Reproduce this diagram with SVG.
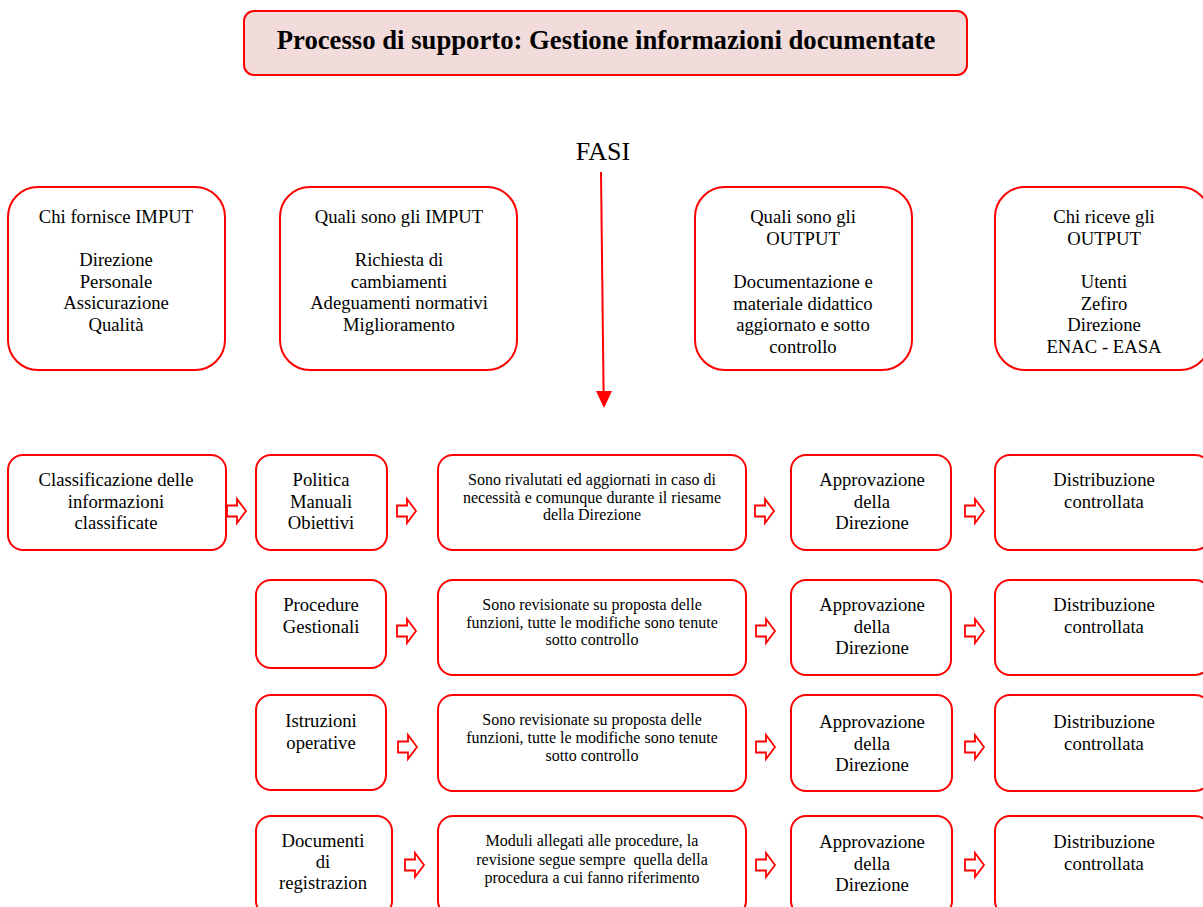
<svg xmlns="http://www.w3.org/2000/svg" width="1203" height="907" viewBox="0 0 1203 907">
<defs>
<style>
.box{fill:#ffffff;stroke:#ff0000;stroke-width:2}
.title{fill:#f2dcdb;stroke:#ff0000;stroke-width:2}
text{font-family:"Liberation Serif","Times New Roman",serif;fill:#000000;text-anchor:middle}
.t{font-size:18.67px}
.s{font-size:16px}
.h{font-size:26.7px;font-weight:bold}
.f{font-size:26px}
.arr{fill:#ffffff;stroke:#ff0000;stroke-width:1.8;stroke-linejoin:miter}
</style>
<path id="ba" d="M0,-5.5 H10 V-12 L19,0 L10,12 V5.5 H0 Z"/>
</defs>
<rect width="1203" height="907" fill="#ffffff"/>

<g id="title">
<rect class="title" x="244" y="11" width="723" height="64" rx="10"/>
<text class="h" x="606" y="49">Processo di supporto: Gestione informazioni documentate</text>
</g>

<g id="fasi">
<text class="f" x="603" y="160">FASI</text>
</g>

<g id="input-providers">
<rect class="box" x="8" y="187" width="217" height="183" rx="30"/>
<text class="t" x="116" y="223">Chi fornisce IMPUT</text>
<text class="t" x="116" y="266">Direzione</text>
<text class="t" x="116" y="287.5">Personale</text>
<text class="t" x="116" y="309">Assicurazione</text>
<text class="t" x="116" y="330.5">Qualità</text>
</g>

<g id="inputs">
<rect class="box" x="280" y="187" width="237" height="183" rx="30"/>
<text class="t" x="399" y="223">Quali sono gli IMPUT</text>
<text class="t" x="399" y="266">Richiesta di</text>
<text class="t" x="399" y="287.5">cambiamenti</text>
<text class="t" x="399" y="309">Adeguamenti normativi</text>
<text class="t" x="399" y="330.5">Miglioramento</text>
</g>

<g id="outputs">
<rect class="box" x="695" y="187" width="217" height="183" rx="30"/>
<text class="t" x="803" y="223">Quali sono gli</text>
<text class="t" x="803" y="244.5">OUTPUT</text>
<text class="t" x="803" y="288">Documentazione e</text>
<text class="t" x="803" y="309.5">materiale didattico</text>
<text class="t" x="803" y="331">aggiornato e sotto</text>
<text class="t" x="803" y="352.5">controllo</text>
</g>

<g id="output-receivers">
<rect class="box" x="995" y="187" width="215" height="183" rx="30"/>
<text class="t" x="1104" y="223">Chi riceve gli</text>
<text class="t" x="1104" y="244.5">OUTPUT</text>
<text class="t" x="1104" y="288">Utenti</text>
<text class="t" x="1104" y="309.5">Zefiro</text>
<text class="t" x="1104" y="331">Direzione</text>
<text class="t" x="1104" y="352.5">ENAC - EASA</text>
</g>

<g id="classificazione">
<rect class="box" x="8" y="455" width="218" height="95" rx="15"/>
<text class="t" x="116" y="486">Classificazione delle</text>
<text class="t" x="116" y="507.5">informazioni</text>
<text class="t" x="116" y="529">classificate</text>
</g>

<g id="r1-tipo">
<rect class="box" x="256" y="455" width="131" height="95" rx="15"/>
<text class="t" x="321" y="486">Politica</text>
<text class="t" x="321" y="507.5">Manuali</text>
<text class="t" x="321" y="529">Obiettivi</text>
</g>
<g id="r1-desc">
<rect class="box" x="438" y="455" width="308" height="95" rx="15"/>
<text class="s" x="592" y="485">Sono rivalutati ed aggiornati in caso di</text>
<text class="s" x="592" y="502.5">necessità e comunque durante il riesame</text>
<text class="s" x="592" y="520">della Direzione</text>
</g>
<g id="r1-appr">
<rect class="box" x="791" y="455" width="160" height="95" rx="15"/>
<text class="t" x="872" y="486">Approvazione</text>
<text class="t" x="872" y="507.5">della</text>
<text class="t" x="872" y="529">Direzione</text>
</g>
<g id="r1-distr">
<rect class="box" x="995" y="455" width="215" height="95" rx="15"/>
<text class="t" x="1104" y="486">Distribuzione</text>
<text class="t" x="1104" y="507.5">controllata</text>
</g>

<g id="r2-tipo">
<rect class="box" x="256" y="580" width="130" height="88" rx="15"/>
<text class="t" x="321" y="611">Procedure</text>
<text class="t" x="321" y="632.5">Gestionali</text>
</g>
<g id="r2-desc">
<rect class="box" x="438" y="580" width="308" height="95" rx="15"/>
<text class="s" x="592" y="610">Sono revisionate su proposta delle</text>
<text class="s" x="592" y="627.5">funzioni, tutte le modifiche sono tenute</text>
<text class="s" x="592" y="645">sotto controllo</text>
</g>
<g id="r2-appr">
<rect class="box" x="791" y="580" width="160" height="95" rx="15"/>
<text class="t" x="872" y="611">Approvazione</text>
<text class="t" x="872" y="632.5">della</text>
<text class="t" x="872" y="654">Direzione</text>
</g>
<g id="r2-distr">
<rect class="box" x="995" y="580" width="215" height="95" rx="15"/>
<text class="t" x="1104" y="611">Distribuzione</text>
<text class="t" x="1104" y="632.5">controllata</text>
</g>

<g id="r3-tipo">
<rect class="box" x="256" y="695" width="130" height="95" rx="15"/>
<text class="t" x="321" y="727">Istruzioni</text>
<text class="t" x="321" y="748.5">operative</text>
</g>
<g id="r3-desc">
<rect class="box" x="438" y="695" width="308" height="96" rx="15"/>
<text class="s" x="592" y="725">Sono revisionate su proposta delle</text>
<text class="s" x="592" y="743">funzioni, tutte le modifiche sono tenute</text>
<text class="s" x="592" y="761">sotto controllo</text>
</g>
<g id="r3-appr">
<rect class="box" x="791" y="695" width="161" height="96" rx="15"/>
<text class="t" x="872" y="728">Approvazione</text>
<text class="t" x="872" y="749.5">della</text>
<text class="t" x="872" y="771">Direzione</text>
</g>
<g id="r3-distr">
<rect class="box" x="995" y="695" width="215" height="96" rx="15"/>
<text class="t" x="1104" y="728">Distribuzione</text>
<text class="t" x="1104" y="749.5">controllata</text>
</g>

<g id="r4-tipo">
<rect class="box" x="256" y="816" width="136" height="100" rx="15"/>
<text class="t" x="323" y="847">Documenti</text>
<text class="t" x="323" y="868">di</text>
<text class="t" x="323" y="889">registrazion</text>
</g>
<g id="r4-desc">
<rect class="box" x="438" y="816" width="308" height="100" rx="15"/>
<text class="s" x="592" y="846">Moduli allegati alle procedure, la</text>
<text class="s" x="592" y="864.5">revisione segue sempre&#160; quella della</text>
<text class="s" x="592" y="883">procedura a cui fanno riferimento</text>
</g>
<g id="r4-appr">
<rect class="box" x="791" y="816" width="161" height="100" rx="15"/>
<text class="t" x="872" y="848">Approvazione</text>
<text class="t" x="872" y="869.5">della</text>
<text class="t" x="872" y="891">Direzione</text>
</g>
<g id="r4-distr">
<rect class="box" x="995" y="816" width="215" height="100" rx="15"/>
<text class="t" x="1104" y="848">Distribuzione</text>
<text class="t" x="1104" y="869.5">controllata</text>
</g>

<g id="connectors">
<line x1="601" y1="172" x2="603.6" y2="393" stroke="#ff0000" stroke-width="2"/>
<polygon points="596,391 612,391 604,408" fill="#ff0000"/>
<use href="#ba" class="arr" x="227" y="511"/>
<use href="#ba" class="arr" x="397" y="511"/>
<use href="#ba" class="arr" x="755" y="511"/>
<use href="#ba" class="arr" x="965" y="511"/>
<use href="#ba" class="arr" x="397" y="631"/>
<use href="#ba" class="arr" x="756" y="631"/>
<use href="#ba" class="arr" x="965" y="631"/>
<use href="#ba" class="arr" x="398" y="747"/>
<use href="#ba" class="arr" x="756" y="747"/>
<use href="#ba" class="arr" x="965" y="747"/>
<use href="#ba" class="arr" x="405" y="865"/>
<use href="#ba" class="arr" x="756" y="865"/>
<use href="#ba" class="arr" x="965" y="865"/>
</g>
</svg>
